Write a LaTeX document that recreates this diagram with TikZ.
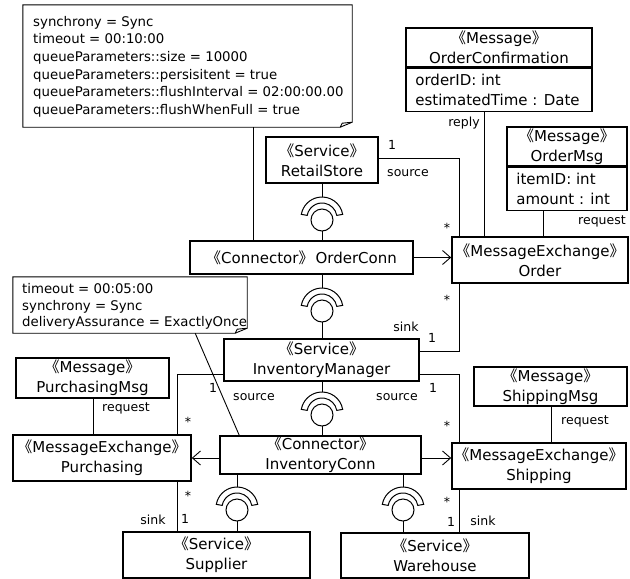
\documentclass[tikz,border=0pt]{standalone}
\usepackage{fontspec}
\setmainfont{DejaVu Sans}
\newfontfamily\cjk{Noto Sans CJK SC}
\usetikzlibrary{arrows.meta}
% stereotype in double angle brackets
\newcommand\stereo[1]{{\cjk 《}#1{\cjk 》}}
% ball-and-socket joint: socket centre, upper node, lower node
\newcommand\plugjoint[3]{%
  \draw[plug] (#1 |- #2.south) -- ([yshift=21pt]#1);
  \draw[plug] ([shift={(10:21pt)}]#1) arc[start angle=10,end angle=170,radius=21pt]
     -- ([shift={(170:15pt)}]#1) arc[start angle=170,end angle=10,radius=15pt] -- cycle;
  \draw[plug] ([yshift=-2pt]#1) circle[radius=11pt];
  \draw[plug] ([yshift=-13pt]#1) -- (#1 |- #3.north);
}
% UML note outline with a folded corner
\newcommand\noteoutline[1]{%
  \draw[conn] (#1.north west) -- (#1.north east) -- ([yshift=5pt]#1.south east)
     -- ([xshift=-12pt]#1.south east) -- (#1.south west) -- cycle;
  \draw[conn] ([xshift=-12pt]#1.south east) -- ([xshift=-10pt,yshift=4pt]#1.south east)
     -- ([yshift=5pt]#1.south east);
}
\begin{document}
\begin{tikzpicture}[x=1pt,y=-1pt,
  box/.style={draw, line width=1.6pt, inner sep=0pt, align=center,
    font=\fontsize{15}{20}\selectfont},
  attrs/.style={inner sep=0pt, anchor=west, align=left,
    font=\fontsize{15}{20}\selectfont},
  conn/.style={line width=0.9pt},
  plug/.style={line width=1pt},
  lbl/.style={inner sep=0pt, font=\fontsize{12.5}{14}\selectfont,
    text height=9pt, text depth=3pt},
  notetext/.style={inner sep=0pt, anchor=north west, align=left,
    font=\fontsize{13.3}{17.6}\selectfont},
  noteshape/.style={inner sep=0pt},
  opentip/.style={-{Straight Barb[length=8pt,width=14pt]}}
]
\useasboundingbox (0,0) rectangle (630,579);

% ---------- notes ----------
\node[noteshape, minimum width=329pt, minimum height=122pt] (note1) at (187.5,66) {};
\noteoutline{note1}
\node[notetext] (note1txt) at (33,16) {synchrony = Sync\\timeout = 00:10:00\\queueParameters::size = 10000\\queueParameters::persisitent = true\\queueParameters::flushInterval = 02:00:00.00\\queueParameters::flushWhenFull = true};

\node[noteshape, minimum width=234pt, minimum height=56pt] (note2) at (130,305) {};
\noteoutline{note2}
\node[notetext, font=\fontsize{13.3}{16.8}\selectfont] (note2txt) at (22,283) {timeout = 00:05:00\\synchrony = Sync\\deliveryAssurance = ExactlyOnce};

% ---------- classifiers ----------
\node[box, minimum width=112pt, minimum height=46pt] (retail) at (322,160) {\stereo{Service}\\RetailStore};
\node[box, minimum width=223pt, minimum height=33pt] (orderconn) at (301.5,257.5) {\stereo{Connector}\kern2pt OrderConn};
\node[box, minimum width=176pt, minimum height=46pt] (order) at (540,260) {\stereo{MessageExchange}\\Order};

\node[box, minimum width=186pt, minimum height=39pt] (confH) at (499,47.5) {\stereo{Message}\\OrderConfirmation};
\node[box, anchor=north, minimum width=186pt, minimum height=43pt] (confB) at (confH.south) {};
\node[attrs] (confA) at ([xshift=10pt]confB.west) {orderID: int\\estimatedTime : Date};

\node[box, minimum width=120pt, minimum height=39pt] (msgH) at (567,146.5) {\stereo{Message}\\OrderMsg};
\node[box, anchor=north, minimum width=120pt, minimum height=43pt] (msgB) at (msgH.south) {};
\node[attrs] (msgA) at ([xshift=10pt]msgB.west) {itemID: int\\amount : int};

\node[box, minimum width=195pt, minimum height=42pt] (invman) at (321.5,360) {\stereo{Service}\\InventoryManager};
\node[box, minimum width=201pt, minimum height=38pt] (invconn) at (320.5,455) {\stereo{Connector}\\InventoryConn};

\node[box, minimum width=153pt, minimum height=40pt] (pmsg) at (92.5,378) {\stereo{Message}\\PurchasingMsg};
\node[box, minimum width=178pt, minimum height=46pt] (purch) at (102,458) {\stereo{MessageExchange}\\Purchasing};

\node[box, minimum width=153pt, minimum height=39pt] (smsg) at (550.5,386.5) {\stereo{Message}\\ShippingMsg};
\node[box, minimum width=174pt, minimum height=46pt] (ship) at (539,466) {\stereo{MessageExchange}\\Shipping};

\node[box, minimum width=187pt, minimum height=46pt] (supplier) at (216.5,555) {\stereo{Service}\\Supplier};
\node[box, minimum width=188pt, minimum height=45pt] (warehouse) at (435,555.5) {\stereo{Service}\\Warehouse};

% ---------- trunk positions ----------
\coordinate (xa) at (459,0);
\coordinate (xp) at (177,0);
\coordinate (xn) at (253,0);
\coordinate (xr) at (484,0);
\coordinate (xo) at (543,0);
\coordinate (xpm) at (93,0);
\coordinate (xsm) at (551,0);

% ---------- note attachments ----------
\draw[conn] (xn |- note1.south) -- (xn |- orderconn.north);
\draw[conn] ([xshift=-52pt]note2.south east) -- ([xshift=20pt]invconn.north west);

% ---------- ball-and-socket joints ----------
\coordinate (s1) at (322,218);
\coordinate (s2) at (322,309);
\coordinate (s3) at (322,413);
\coordinate (s4) at (237,508);
\coordinate (s5) at (403,508);
\plugjoint{s1}{retail}{orderconn}
\plugjoint{s2}{orderconn}{invman}
\plugjoint{s3}{invman}{invconn}
\plugjoint{s4}{invconn}{supplier}
\plugjoint{s5}{invconn}{warehouse}

% ---------- connector arrows ----------
\draw[conn, opentip] (orderconn.east) -- (orderconn.east -| order.west);
\draw[conn, opentip] ([yshift=-3pt]invconn.west) -- ([yshift=-3pt]invconn.west -| purch.east);
\draw[conn, opentip] ([yshift=-3pt]invconn.east) -- ([yshift=-3pt]invconn.east -| ship.west);

% ---------- associations ----------
\draw[conn] ([yshift=2pt]retail.east) -| (xa |- order.north);
\draw[conn] (xa |- order.south) |- ([yshift=9pt]invman.east);
\draw[conn] ([yshift=-14pt]invman.east) -| (xa |- ship.north);
\draw[conn] ([yshift=-14pt]invman.west) -| (xp |- purch.north);
\draw[conn] (xp |- purch.south) -- (xp |- supplier.north);
\draw[conn] (xa |- ship.south) -- (xa |- warehouse.north);
\draw[conn] (xr |- confB.south) -- (xr |- order.north);
\draw[conn] (xo |- msgB.south) -- (xo |- order.north);
\draw[conn] (xpm |- pmsg.south) -- (xpm |- purch.north);
\draw[conn] (xsm |- smsg.south) -- (xsm |- ship.north);

% ---------- role names and multiplicities ----------
\node[lbl] (l1) at (392,146.6) {1};
\node[lbl] (l2) at (408,173) {source};
\node[lbl] (l3) at (447,229.6) {*};
\node[lbl] (l4) at (464,123) {reply};
\node[lbl] (l5) at (602,221) {request};
\node[lbl] (l6) at (447,301.6) {*};
\node[lbl] (l7) at (406,328) {sink};
\node[lbl] (l8) at (432,339.6) {1};
\node[lbl] (l9) at (433,389.6) {1};
\node[lbl] (l10) at (397,397) {source};
\node[lbl] (l11) at (447,427.6) {*};
\node[lbl] (l12) at (585,421) {request};
\node[lbl] (l13) at (447,503.6) {*};
\node[lbl] (l14) at (451,523.6) {1};
\node[lbl] (l15) at (483,522) {sink};
\node[lbl] (l16) at (213,389.6) {1};
\node[lbl] (l17) at (254,397) {source};
\node[lbl] (l18) at (188,423.6) {*};
\node[lbl] (l19) at (126,408) {request};
\node[lbl] (l20) at (188,497.6) {*};
\node[lbl] (l21) at (185,520.6) {1};
\node[lbl] (l22) at (153,521) {sink};
\end{tikzpicture}
\end{document}
